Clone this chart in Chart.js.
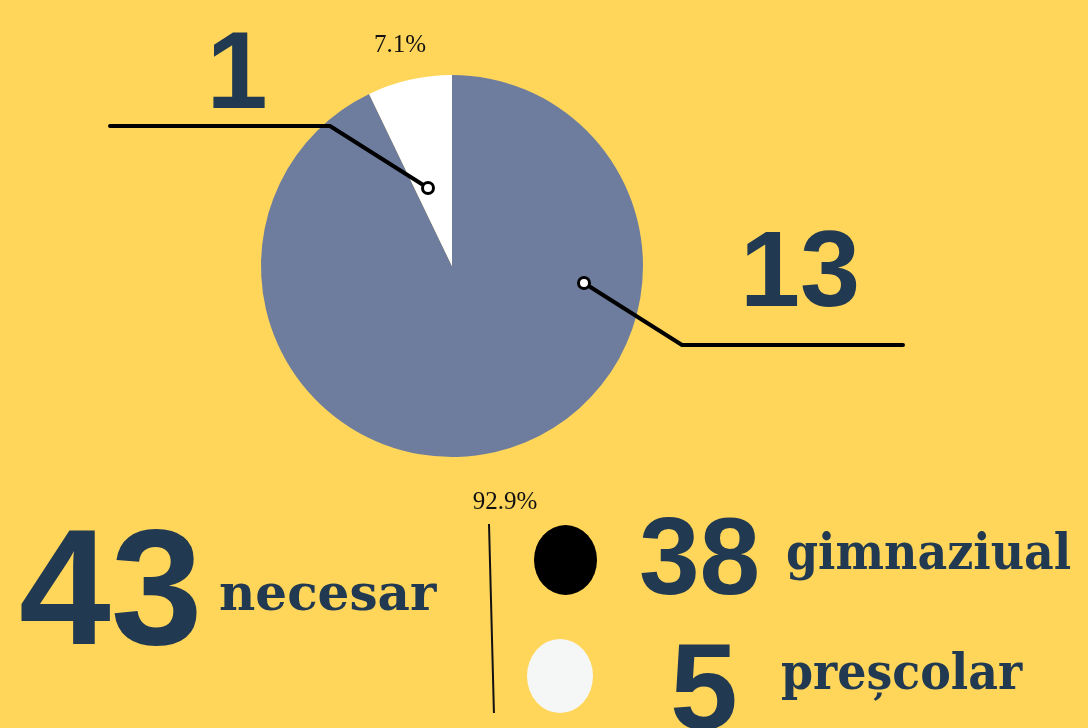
<!DOCTYPE html>
<html>
<head>
<meta charset="utf-8">
<script src="https://cdn.jsdelivr.net/npm/chart.js@4/dist/chart.umd.min.js"></script>
<style>
  html, body { margin: 0; padding: 0; background: #FFD55A; }
  #wrap { position: relative; width: 1088px; height: 728px; overflow: hidden; background: #FFD55A; }
  #c { position: absolute; left: 0; top: 0; }
  .t { position: absolute; color: #213A52; white-space: nowrap; line-height: 1; }
  .num { font-family: "Liberation Sans", Arial, sans-serif; font-weight: 700; }
  .lbl { font-family: "DejaVu Serif", serif; font-weight: 700; }
  .dot { position: absolute; border-radius: 50%; }
  #vline { position: absolute; left: 488px; top: 524px; width: 2px; height: 189px; background: #111; transform: rotate(-1.5deg); transform-origin: top left; }
</style>
</head>
<body>
<div id="wrap">
  <canvas id="c" width="1088" height="728"></canvas>
  <div id="vline"></div>
</div>
<script>
// ---- data ----
const pieLabels = ['13', '1'];
const pieValues = [13, 1];
const pieColors = ['#6E7D9E', '#FFFFFF'];
const totalValue = 43;
const totalLabel = 'necesar';
const legendLabels = ['gimnaziual', 'preșcolar'];
const legendValues = [38, 5];
const legendColors = ['#000000', '#F5F7F7'];

// ---- layout (offsets relative to pie centre in px) ----
const leaderLayout = [
  { marker: [132, 17], elbow: [230, 79], end: [451, 79], label: [348, 40], pct: [53, 243], numSize: 108 },
  { marker: [-24, -78], elbow: [-122, -140], end: [-342, -140], label: [-215, -158], pct: [-52, -214], numSize: 110 }
];

const leaderPlugin = {
  id: 'leaders',
  afterDatasetsDraw(chart) {
    const ctx = chart.ctx;
    const meta = chart.getDatasetMeta(0);
    const total = pieValues.reduce((a, b) => a + b, 0);
    meta.data.forEach((arc, i) => {
      const cx = arc.x, cy = arc.y;
      const L = leaderLayout[i];
      ctx.save();
      ctx.strokeStyle = '#000';
      ctx.lineWidth = 4;
      ctx.lineCap = 'round';
      ctx.lineJoin = 'round';
      ctx.beginPath();
      ctx.moveTo(cx + L.end[0], cy + L.end[1]);
      ctx.lineTo(cx + L.elbow[0], cy + L.elbow[1]);
      ctx.lineTo(cx + L.marker[0], cy + L.marker[1]);
      ctx.stroke();
      ctx.beginPath();
      ctx.arc(cx + L.marker[0], cy + L.marker[1], 5.5, 0, Math.PI * 2);
      ctx.fillStyle = '#fff';
      ctx.fill();
      ctx.lineWidth = 3;
      ctx.stroke();
      ctx.fillStyle = '#213A52';
      ctx.textAlign = 'center';
      ctx.textBaseline = 'alphabetic';
      ctx.font = '700 ' + L.numSize + 'px "Liberation Sans", Arial, sans-serif';
      ctx.fillText(pieLabels[i], cx + L.label[0], cy + L.label[1]);
      ctx.fillStyle = '#111';
      ctx.font = '25px "Liberation Serif", serif';
      const pct = (pieValues[i] / total * 100).toFixed(1) + '%';
      ctx.fillText(pct, cx + L.pct[0], cy + L.pct[1]);
      ctx.restore();
    });
  }
};

new Chart(document.getElementById('c'), {
  type: 'pie',
  data: {
    labels: pieLabels,
    datasets: [{ data: pieValues, backgroundColor: pieColors, borderWidth: 0 }]
  },
  options: {
    responsive: false,
    animation: false,
    layout: { padding: { left: 261, right: 445, top: 75, bottom: 271 } },
    plugins: { legend: { display: false }, tooltip: { enabled: false } }
  },
  plugins: [leaderPlugin]
});

// ---- summary & legend text (HTML) ----
const wrap = document.getElementById('wrap');
function addText(cls, text, left, top, size, extra) {
  const d = document.createElement('div');
  d.className = 't ' + cls;
  d.textContent = text;
  d.style.left = left + 'px';
  d.style.top = top + 'px';
  d.style.fontSize = size + 'px';
  if (extra) Object.assign(d.style, extra);
  wrap.appendChild(d);
  return d;
}
addText('num', String(totalValue), 19, 505, 165);
addText('lbl', totalLabel, 219, 568, 50);

const legendPos = [
  { dot: [534, 525, 63, 70], num: [639, 502, 109], lbl: [786, 526, 51] },
  { dot: [527, 639, 66, 74], num: [670, 626, 122], lbl: [781, 646, 51] }
];
const legendFont = { fontFamily: '"DejaVu Serif Condensed", "DejaVu Serif", serif', fontWeight: '700', fontStretch: 'condensed' };
legendLabels.forEach((lab, i) => {
  const p = legendPos[i];
  const d = document.createElement('div');
  d.className = 'dot';
  d.style.left = p.dot[0] + 'px'; d.style.top = p.dot[1] + 'px';
  d.style.width = p.dot[2] + 'px'; d.style.height = p.dot[3] + 'px';
  d.style.background = legendColors[i];
  wrap.appendChild(d);
  addText('num', String(legendValues[i]), p.num[0], p.num[1], p.num[2]);
  addText('lbl', lab, p.lbl[0], p.lbl[1], p.lbl[2], legendFont);
});
</script>
</body>
</html>
